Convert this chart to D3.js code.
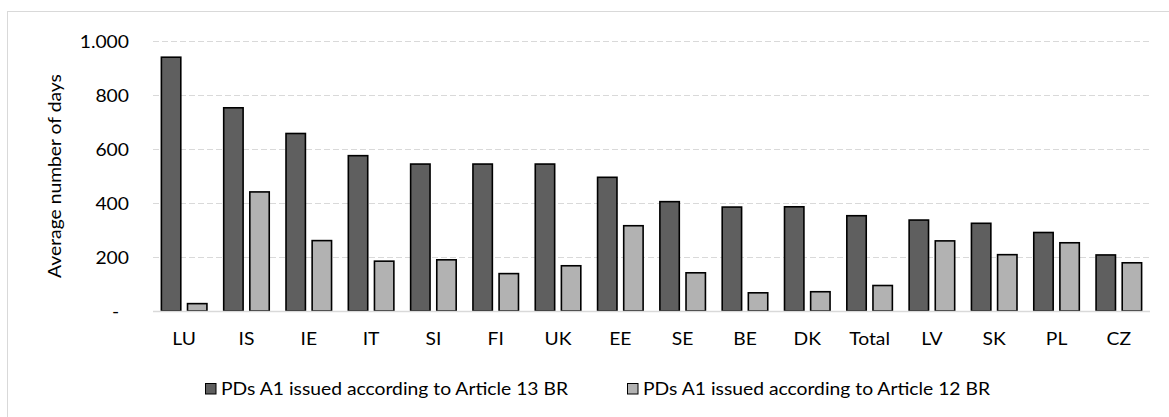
<!DOCTYPE html>
<html><head><meta charset="utf-8">
<script src="https://cdn.jsdelivr.net/npm/d3@7"></script>
<style>body{margin:0;background:#fff}svg{display:block}text{font-family:Lato,"Open Sans",sans-serif;fill:#000}</style>
</head><body><svg id="c" width="1169" height="417"></svg>
<script>
const categories = ["LU","IS","IE","IT","SI","FI","UK","EE","SE","BE","DK","Total","LV","SK","PL","CZ"];
const art13 = [941,754,659,577,546,546,546,497,407,387,388,355,339,327,293,210];
const art12 = [30,443,263,187,192,141,170,318,144,70,74,97,262,211,255,181];
const seriesNames = ["PDs A1 issued according to Article 13 BR","PDs A1 issued according to Article 12 BR"];
const yTicks = [0,200,400,600,800,1000];
const yTickLabels = ["-\u00a0\u00a0","200","400","600","800","1.000"];
const colors = ["#5f5f5f","#b2b2b2"];

(function(){
const FS = 16.5, SX = 1.17;
const svg = d3.select("#c");
// outer frame
svg.append("rect").attr("x",7.5).attr("y",11.5).attr("width",1200).attr("height",500)
  .attr("fill","none").attr("stroke","#d9d9d9").attr("stroke-width",1);

const pLeft=153, pRight=1150, pTop=40.5, pBottom=311;
const x0 = d3.scaleBand().domain(categories).range([pLeft,pRight]).paddingInner(0.245).paddingOuter(0.1225);
const x1 = d3.scaleBand().domain([0,1]).range([0,x0.bandwidth()]).paddingInner(0.2);
const y = d3.scaleLinear().domain([0,1000]).range([pBottom,pTop]);

// gridlines
svg.append("g").selectAll("line").data(yTicks.filter(d=>d>0)).join("line")
  .attr("x1",pLeft).attr("x2",pRight).attr("y1",d=>Math.round(y(d))+0.5).attr("y2",d=>Math.round(y(d))+0.5)
  .attr("stroke","#d9d9d9").attr("stroke-width",1.2).attr("stroke-dasharray","6,3");

// y axis labels
const yAxis = d3.axisLeft(y).tickValues(yTicks).tickFormat((d,i)=>yTickLabels[i]).tickSize(0).tickPadding(0);
const gy = svg.append("g").attr("transform",`translate(129,0)`).call(yAxis);
gy.select(".domain").remove();
gy.selectAll("text").attr("font-size",FS).attr("dy","0.42em").attr("transform",`scale(${SX},1)`)
  .style("font-family","Lato,'Open Sans',sans-serif").attr("fill","#000");

// bars
const data = categories.map((c,i)=>({c, v:[art13[i],art12[i]]}));
const g = svg.append("g");
data.forEach(d=>{
  g.selectAll(null).data(d.v.map((v,k)=>({k,v}))).join("rect")
    .attr("x",e=>x0(d.c)+x1(e.k)+0.75)
    .attr("y",e=>y(e.v)+0.75)
    .attr("width",x1.bandwidth()-1.5)
    .attr("height",e=>pBottom-y(e.v)-0.75)
    .attr("fill",e=>colors[e.k]).attr("stroke","#000").attr("stroke-width",1.6);
});

// baseline
svg.append("line").attr("x1",pLeft).attr("x2",pRight).attr("y1",pBottom+0.5).attr("y2",pBottom+0.5)
  .attr("stroke","#d9d9d9").attr("stroke-width",1.5);

// x axis labels
const xAxis = d3.axisBottom(x0).tickSize(0).tickPadding(0);
const gx = svg.append("g").attr("transform",`translate(0,333)`).call(xAxis);
gx.select(".domain").remove();
gx.selectAll("text").attr("font-size",FS).attr("transform",`scale(${SX},1)`)
  .style("font-family","Lato,'Open Sans',sans-serif").attr("fill","#000");

// y title
svg.append("text").attr("transform",`translate(61,176) rotate(-90) scale(${SX},1)`).attr("text-anchor","middle")
  .attr("font-size",FS).text("Average number of days");

// legend
const legendX = [205,627];
seriesNames.forEach((n,k)=>{
  svg.append("rect").attr("x",legendX[k]+0.5).attr("y",383.5).attr("width",10.5).attr("height",10.5)
    .attr("fill",colors[k]).attr("stroke","#000").attr("stroke-width",1);
  svg.append("text").attr("transform",`translate(${legendX[k]+16},394.5) scale(${SX},1)`)
    .attr("font-size",FS).text(n);
});
})();
</script></body></html>
